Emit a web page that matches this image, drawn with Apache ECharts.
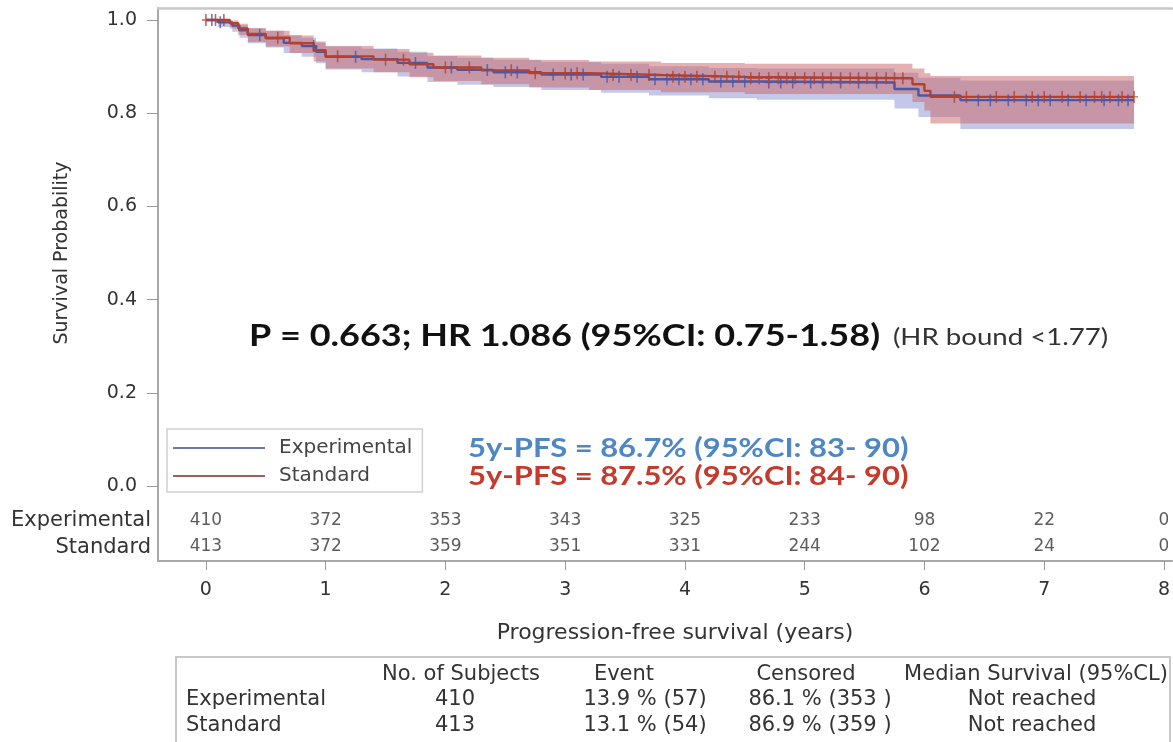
<!DOCTYPE html>
<html><head><meta charset="utf-8">
<script src="https://cdn.jsdelivr.net/npm/echarts@6/dist/echarts.min.js"></script>
<style>html,body{margin:0;padding:0;background:#fff;overflow:hidden}#c{width:1173px;height:742px}</style>
</head><body><div id="c"></div>
<script>
// ---- data ----
const xTicks = [0, 1, 2, 3, 4, 5, 6, 7, 8];
const yTicks = [0, 0.2, 0.4, 0.6, 0.8, 1.0];
const riskExp = [410, 372, 353, 343, 325, 233, 98, 22, 0];
const riskStd = [413, 372, 359, 351, 331, 244, 102, 24, 0];

const expTime = [0, 0.1, 0.22, 0.28, 0.35, 0.5, 0.65, 0.8, 0.92, 1.0, 1.3, 1.6, 1.85, 2.1, 2.4, 2.8, 3.3, 3.7, 4.2, 4.6, 5.75, 5.95, 6.3, 7.75];
const expSurv = [1.0, 0.995, 0.988, 0.978, 0.968, 0.961, 0.951, 0.944, 0.932, 0.921, 0.916, 0.908, 0.898, 0.893, 0.888, 0.883, 0.878, 0.873, 0.868, 0.866, 0.852, 0.838, 0.828, 0.828];
const expLo   = [1.0, 0.985, 0.975, 0.962, 0.950, 0.941, 0.929, 0.921, 0.907, 0.894, 0.888, 0.879, 0.867, 0.861, 0.856, 0.850, 0.844, 0.838, 0.832, 0.829, 0.810, 0.792, 0.766, 0.766];
const expHi   = [1.0, 0.999, 0.995, 0.989, 0.982, 0.977, 0.968, 0.962, 0.951, 0.943, 0.939, 0.932, 0.923, 0.919, 0.915, 0.910, 0.906, 0.901, 0.897, 0.896, 0.887, 0.876, 0.870, 0.870];

const stdTime = [0, 0.2, 0.27, 0.35, 0.5, 0.7, 0.9, 1.0, 1.4, 1.7, 1.9, 2.3, 2.7, 3.2, 3.8, 4.5, 5.9, 6.0, 6.05, 7.75];
const stdSurv = [1.0, 0.993, 0.982, 0.970, 0.962, 0.950, 0.935, 0.922, 0.915, 0.905, 0.898, 0.892, 0.886, 0.882, 0.878, 0.875, 0.862, 0.848, 0.835, 0.835];
const stdLo   = [1.0, 0.982, 0.968, 0.953, 0.943, 0.929, 0.911, 0.896, 0.888, 0.877, 0.869, 0.862, 0.855, 0.850, 0.845, 0.841, 0.824, 0.806, 0.778, 0.778];
const stdHi   = [1.0, 0.999, 0.992, 0.983, 0.977, 0.967, 0.954, 0.944, 0.938, 0.930, 0.924, 0.919, 0.914, 0.911, 0.908, 0.906, 0.896, 0.886, 0.880, 0.880];

const expCens = [0.05, 0.12, 0.45, 0.9, 1.25, 1.75, 2.05, 2.35, 2.5, 2.6, 2.9, 3.05, 3.15, 3.35, 3.45, 3.6, 3.75, 3.85, 3.95, 4.05, 4.15, 4.3, 4.4, 4.5, 4.7, 4.8, 4.9, 5.05, 5.15, 5.3, 5.45, 5.6, 6.45, 6.55, 6.7, 6.85, 6.95, 7.05, 7.2, 7.35, 7.5, 7.62, 7.7];
const stdCens = [0.0, 0.08, 0.15, 0.6, 1.1, 1.5, 1.65, 2.0, 2.2, 2.55, 2.75, 3.0, 3.1, 3.4, 3.55, 3.7, 3.9, 4.0, 4.1, 4.25, 4.35, 4.45, 4.55, 4.62, 4.7, 4.78, 4.85, 4.92, 5.0, 5.08, 5.15, 5.22, 5.3, 5.38, 5.45, 5.52, 5.6, 5.68, 5.75, 5.82, 6.25, 6.35, 6.6, 6.75, 6.9, 7.0, 7.15, 7.3, 7.42, 7.48, 7.55, 7.65, 7.75];

const seriesNames = ['Experimental', 'Standard'];
const statText = 'P = 0.663; HR 1.086 (95%CI: 0.75-1.58)';
const boundText = '(HR bound <1.77)';
const pfsExpText = '5y-PFS = 86.7% (95%CI: 83- 90)';
const pfsStdText = '5y-PFS = 87.5% (95%CI: 84- 90)';
const xAxisTitle = 'Progression-free survival (years)';
const yAxisTitle = 'Survival Probability';

const tableCols = ['No. of Subjects', 'Event', 'Censored', 'Median Survival (95%CL)'];
const tableSubjects = [410, 413];
const tableEvent = ['13.9 % (57)', '13.1 % (54)'];
const tableCensored = ['86.1 % (353 )', '86.9 % (359 )'];
const tableMedian = ['Not reached', 'Not reached'];

// ---- build ----
const EXP_LINE = '#4a58a8', STD_LINE = '#b4402f';
const EXP_BAND = 'rgba(125,132,205,0.45)', STD_BAND = 'rgba(200,100,100,0.50)';
const FONT = 'DejaVu Sans';
const RISK_Y_EXP = -0.075, RISK_Y_STD = -0.131;

function pairs(t, v) { return t.map((x, i) => [x, v[i]]); }
function stepAt(t, s, x) { let v = s[0]; for (let i = 0; i < t.length; i++) { if (t[i] <= x) v = s[i]; } return v; }
function cens(times, t, s) { return times.map(x => [x, stepAt(t, s, x)]); }

const plus = 'path://M-0.6,-5H0.6V-0.6H3V0.6H0.6V5H-0.6V0.6H-3V-0.6H-0.6Z';

function bandSeries(name, t, lo, hi, color, z) {
  return {
    name: name, type: 'custom', silent: true, z: z, clip: true,
    data: [[t[0], lo[0]]],
    renderItem: function (params, api) {
      const pts = [];
      const n = t.length;
      for (let i = 0; i < n; i++) {
        pts.push(api.coord([t[i], hi[i]]));
        if (i < n - 1) pts.push(api.coord([t[i + 1], hi[i]]));
      }
      for (let i = n - 1; i >= 0; i--) {
        if (i < n - 1) pts.push(api.coord([t[i + 1], lo[i]]));
        pts.push(api.coord([t[i], lo[i]]));
      }
      return { type: 'polygon', shape: { points: pts }, style: { fill: color } };
    }
  };
}

const chart = echarts.init(document.getElementById('c'), null, { renderer: 'canvas' });

function txt(x, y, text, font, fill, align, extra) {
  return Object.assign({ type: 'text', x: x, y: y, style: { text: text, font: font, fill: fill, align: align, verticalAlign: 'middle' } }, extra || {});
}

const graphic = [];
graphic.push(txt(249, 336, statText, 'bold 30px Lato', '#111', 'left', { scaleX: 1.2 }));
graphic.push(txt(893, 338, boundText, '23px Lato', '#333', 'left', { scaleX: 1.2 }));
graphic.push(txt(468, 449, pfsExpText, 'bold 26px Lato', '#4f86c4', 'left', { scaleX: 1.19 }));
graphic.push(txt(468, 477, pfsStdText, 'bold 26px Lato', '#c63a2e', 'left', { scaleX: 1.19 }));
graphic.push(txt(62, 253, yAxisTitle, '19px "DejaVu Sans"', '#333', 'center', { rotation: Math.PI / 2 }));
graphic.push(txt(675, 633, xAxisTitle, '22px "DejaVu Sans"', '#333', 'center'));
graphic.push(txt(151, 521, seriesNames[0], '21px "DejaVu Sans"', '#333', 'right'));
graphic.push(txt(151, 548, seriesNames[1], '21px "DejaVu Sans"', '#333', 'right'));
graphic.push({ type: 'rect', shape: { x: 176, y: 657, width: 994, height: 95 }, style: { fill: 'none', stroke: '#c8c8c8', lineWidth: 2 } });
// the plot continues past the right edge of the picture: no right frame
graphic.push({ type: 'rect', z: 100, shape: { x: 1168, y: 10, width: 10, height: 549 }, style: { fill: '#fff' } });
const headX = [461, 624, 806, 1036];
const valX = [455, 645, 820, 1032];
tableCols.forEach((c, i) => graphic.push(txt(headX[i], 675, c, '21px "DejaVu Sans"', '#333', 'center')));
seriesNames.forEach((n, r) => {
  const y = 700 + r * 26;
  graphic.push(txt(186, y, n, '21px "DejaVu Sans"', '#333', 'left'));
  [String(tableSubjects[r]), tableEvent[r], tableCensored[r], tableMedian[r]].forEach((v, i) =>
    graphic.push(txt(valX[i], y, v, '21px "DejaVu Sans"', '#333', 'center')));
});

const X_MIN = -0.4, X_MAX = 8.067;
const option = {
  animation: false,
  backgroundColor: '#fff',
  textStyle: { fontFamily: FONT },
  grid: { left: 158, top: 8, right: 0, height: 553, show: false, containLabel: false },
  xAxis: [{
    type: 'value', min: X_MIN, max: X_MAX,
    axisLine: { show: true, onZero: false, lineStyle: { color: '#a8a8a8', width: 2 } },
    axisTick: { show: true, customValues: xTicks, length: 9, lineStyle: { color: '#999' } },
    axisLabel: { customValues: xTicks, margin: 20, fontSize: 19, color: '#333', fontFamily: FONT },
    splitLine: { show: false }
  }, {
    type: 'value', position: 'top', min: X_MIN, max: X_MAX,
    axisLine: { show: true, onZero: false, lineStyle: { color: '#c8c8c8', width: 2.5 } },
    axisTick: { show: false }, axisLabel: { show: false }, splitLine: { show: false }
  }],
  yAxis: {
    type: 'value', min: -0.161, max: 1.0258,
    axisLine: { show: true, onZero: false, lineStyle: { color: '#a8a8a8', width: 2 } },
    axisTick: { show: true, customValues: yTicks, length: 11, lineStyle: { color: '#999' } },
    axisLabel: { customValues: yTicks, margin: 21, fontSize: 19, color: '#333', fontFamily: FONT, formatter: v => v.toFixed(1) },
    splitLine: { show: false }
  },
  legend: {
    data: [{ name: seriesNames[0], itemStyle: { color: '#6e76aa' } }, { name: seriesNames[1], itemStyle: { color: '#a35a58' } }],
    orient: 'vertical', left: 167, top: 429, icon: 'rect', itemWidth: 92, itemHeight: 2, itemGap: 8,
    padding: [9, 10, 6, 6], borderColor: '#cfcfcf', borderWidth: 1.5, backgroundColor: '#fff',
    textStyle: { fontSize: 20, color: '#444', fontFamily: FONT, lineHeight: 20, padding: [0, 0, 0, 9] },
    selectedMode: false
  },
  graphic: graphic,
  series: [
    bandSeries('exp band', expTime, expLo, expHi, EXP_BAND, 1),
    bandSeries('std band', stdTime, stdLo, stdHi, STD_BAND, 2),
    { name: seriesNames[0], type: 'line', step: 'end', data: pairs(expTime, expSurv), symbol: 'none', lineStyle: { color: EXP_LINE, width: 2.4 }, itemStyle: { color: EXP_LINE }, z: 3 },
    { name: seriesNames[1], type: 'line', step: 'end', data: pairs(stdTime, stdSurv), symbol: 'none', lineStyle: { color: STD_LINE, width: 2.4 }, itemStyle: { color: STD_LINE }, z: 4 },
    { name: 'exp censored', type: 'scatter', data: cens(expCens, expTime, expSurv), symbol: plus, symbolSize: [8, 12], itemStyle: { color: EXP_LINE }, silent: true, z: 5 },
    { name: 'std censored', type: 'scatter', data: cens(stdCens, stdTime, stdSurv), symbol: plus, symbolSize: [8, 12], itemStyle: { color: STD_LINE }, silent: true, z: 6 },
    { name: 'risk exp', type: 'scatter', data: riskExp.map((n, i) => [xTicks[i], RISK_Y_EXP, n]), symbolSize: 1, itemStyle: { color: 'transparent' }, silent: true,
      label: { show: true, position: 'inside', formatter: p => p.value[2], fontSize: 17, color: '#333', fontFamily: FONT } },
    { name: 'risk std', type: 'scatter', data: riskStd.map((n, i) => [xTicks[i], RISK_Y_STD, n]), symbolSize: 1, itemStyle: { color: 'transparent' }, silent: true,
      label: { show: true, position: 'inside', formatter: p => p.value[2], fontSize: 17, color: '#333', fontFamily: FONT } }
  ]
};
chart.setOption(option);
</script></body></html>
